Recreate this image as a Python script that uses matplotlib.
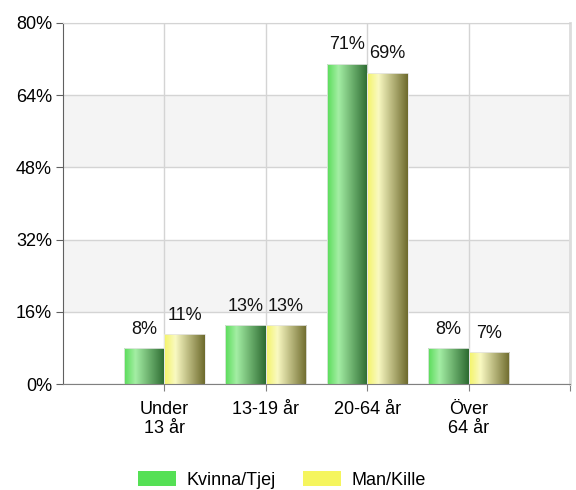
import matplotlib
matplotlib.use('Agg')
import matplotlib.pyplot as plt
import numpy as np
from matplotlib.colors import LinearSegmentedColormap
from matplotlib.patches import Patch

plt.rcParams['font.family'] = ['Liberation Sans', 'DejaVu Sans']

categories = ['Under\n13 år', '13-19 år', '20-64 år', 'Över\n64 år']
kvinna = [8, 13, 71, 8]
man = [11, 13, 69, 7]
series_names = ['Kvinna/Tjej', 'Man/Kille']
y_ticks = [0, 16, 32, 48, 64, 80]

green_cmap = LinearSegmentedColormap.from_list(
    'g', [(0, '#58dc58'), (0.28, '#a4eea4'), (1, '#2c6a30')])
yellow_cmap = LinearSegmentedColormap.from_list(
    'y', [(0, '#f4f466'), (0.28, '#f9f9c2'), (1, '#6d6a2c')])

fs = 13

fig = plt.figure(figsize=(5.76, 4.90), dpi=100)
ax = fig.add_axes([63 / 576, 106 / 490, 507 / 576, 361 / 490])

# alternating bands
for i in range(len(y_ticks) - 1):
    if i % 2 == 1:
        ax.axhspan(y_ticks[i], y_ticks[i + 1], color='#f4f4f4', zorder=0, lw=0)

x = np.arange(1, len(categories) + 1)
w = 0.4
grad = np.linspace(0, 1, 256).reshape(1, -1)

for vals, offs, cmap in [(kvinna, -w / 2, green_cmap), (man, w / 2, yellow_cmap)]:
    bars = ax.bar(x + offs, vals, width=w, color='none', edgecolor='#e6e6e6',
                  linewidth=0.6, zorder=3)
    for b, v in zip(bars, vals):
        x0 = b.get_x()
        im = ax.imshow(grad, extent=[x0, x0 + b.get_width(), 0, v],
                       aspect='auto', cmap=cmap, zorder=2.5, interpolation='bilinear')
        im.set_clip_path(b)
        ax.text(x0 + b.get_width() / 2, v + 2.3, f'{v}%', ha='center', va='bottom',
                fontsize=fs, color='#111111', zorder=4)

ax.set_xlim(0, 5)
ax.set_ylim(0, 80)
ax.set_yticks(y_ticks)
ax.set_yticklabels([f'{t}%' for t in y_ticks], fontsize=fs)
ax.set_xticks(list(x) + [5])
ax.set_xticklabels(categories + [''], fontsize=fs, linespacing=1.2)

ax.grid(True, color='#d4d4d4', linewidth=1, zorder=1)
ax.set_axisbelow(True)

ax.spines['left'].set_color('#606060')
ax.spines['bottom'].set_color('#808080')
ax.spines['top'].set_color('#d4d4d4')
ax.spines['right'].set_color('#dddddd')
ax.spines['right'].set_linewidth(2)
ax.tick_params(axis='y', length=5, color='#606060', pad=3)
ax.tick_params(axis='x', length=5, color='#808080', pad=7)

handles = [Patch(facecolor='#55e055'), Patch(facecolor='#f5f55e')]
fig.legend(handles, series_names, loc='center', bbox_to_anchor=(0.49, 0.02),
           ncol=2, frameon=False, fontsize=fs, handlelength=2.1, handleheight=0.9,
           handletextpad=0.6, columnspacing=1.5)

fig.savefig('out.png', dpi=100)
